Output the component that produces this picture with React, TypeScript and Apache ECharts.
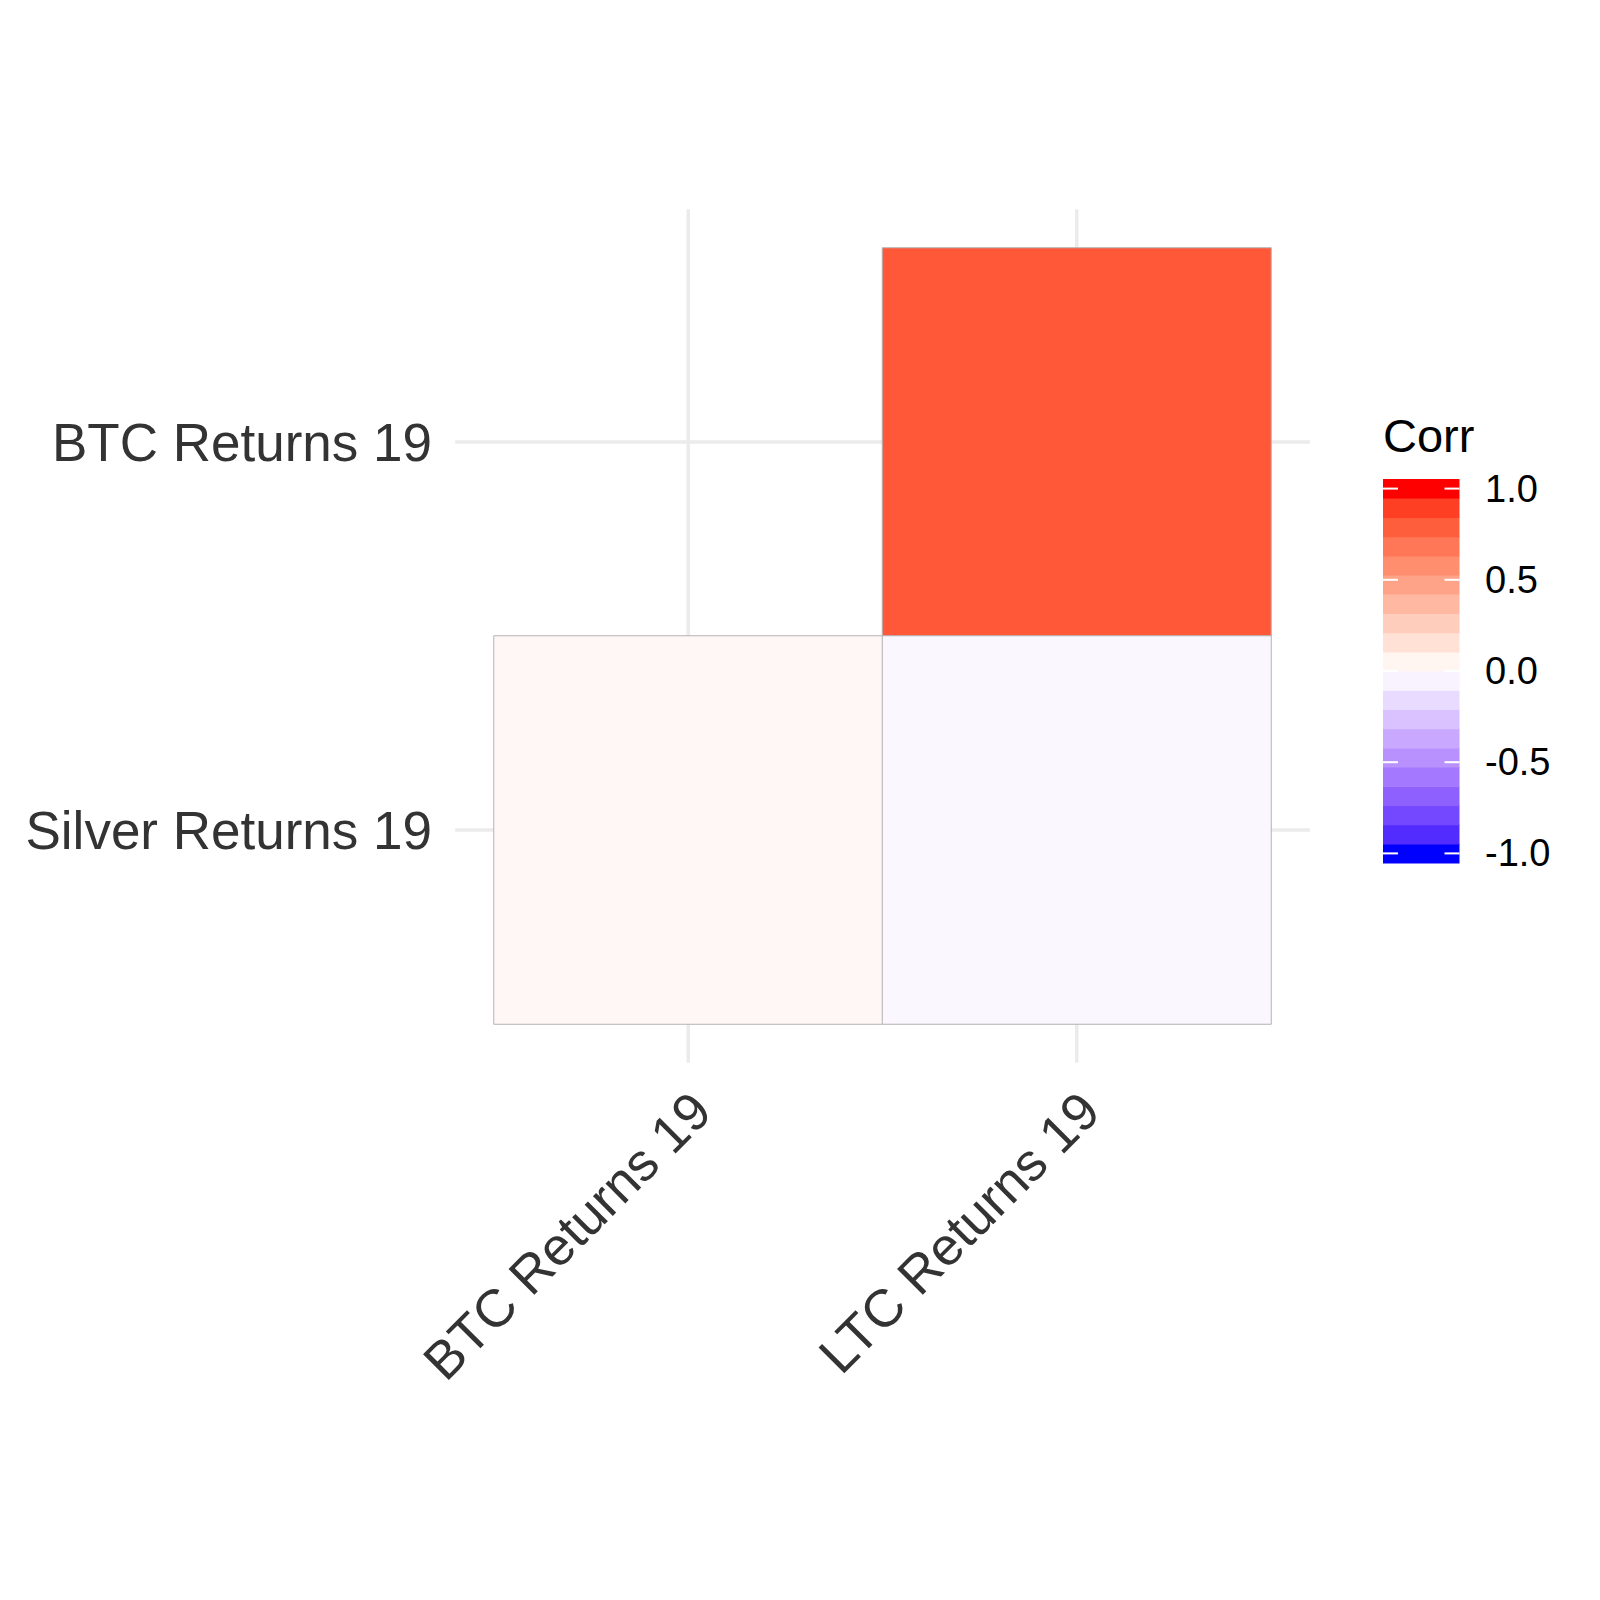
import React, { useEffect, useRef } from "react";
import * as echarts from "echarts";

const xCategories = ["BTC Returns 19", "LTC Returns 19"];
const yCategories = ["Silver Returns 19", "BTC Returns 19"];
const cellX = ["LTC Returns 19", "BTC Returns 19", "LTC Returns 19"];
const cellY = ["BTC Returns 19", "Silver Returns 19", "Silver Returns 19"];
const corrValues = [0.81, 0.04, -0.035];
const legendTicks = [1, 0.5, 0, -0.5, -1];
const legendTitle = "Corr";

const FONT = "'Liberation Sans', Arial, Helvetica, sans-serif";

// Lab interpolation like ggplot's scale_fill_gradient2 (blue - white - red)
function rgbToLab(r: number, g: number, b: number) {
  const lin = (c: number) => {
    c /= 255;
    return c <= 0.04045 ? c / 12.92 : Math.pow((c + 0.055) / 1.055, 2.4);
  };
  const R = lin(r), G = lin(g), B = lin(b);
  const X = (0.4124 * R + 0.3576 * G + 0.1805 * B) / 0.95047;
  const Y = 0.2126 * R + 0.7152 * G + 0.0722 * B;
  const Z = (0.0193 * R + 0.1192 * G + 0.9505 * B) / 1.08883;
  const f = (t: number) => (t > 0.008856 ? Math.cbrt(t) : 7.787 * t + 16 / 116);
  const fx = f(X), fy = f(Y), fz = f(Z);
  return [116 * fy - 16, 500 * (fx - fy), 200 * (fy - fz)];
}
function labToHex(L: number, a: number, b: number) {
  const fy = (L + 16) / 116;
  const fx = fy + a / 500;
  const fz = fy - b / 200;
  const inv = (t: number) => (t * t * t > 0.008856 ? t * t * t : (t - 16 / 116) / 7.787);
  const X = inv(fx) * 0.95047, Y = inv(fy), Z = inv(fz) * 1.08883;
  const r = 3.2406 * X - 1.5372 * Y - 0.4986 * Z;
  const g = -0.9689 * X + 1.8758 * Y + 0.0415 * Z;
  const bb = 0.0557 * X - 0.204 * Y + 1.057 * Z;
  const gam = (c: number) => {
    c = Math.max(0, Math.min(1, c));
    const v = c <= 0.0031308 ? 12.92 * c : 1.055 * Math.pow(c, 1 / 2.4) - 0.055;
    return Math.round(v * 255);
  };
  return "#" + [gam(r), gam(g), gam(bb)].map((v) => v.toString(16).padStart(2, "0")).join("");
}
const LAB_LOW = rgbToLab(0, 0, 255);
const LAB_MID = rgbToLab(255, 255, 255);
const LAB_HIGH = rgbToLab(255, 0, 0);
function corrColor(v: number) {
  const t = Math.min(1, Math.abs(v));
  const end = v >= 0 ? LAB_HIGH : LAB_LOW;
  return labToHex(
    LAB_MID[0] + (end[0] - LAB_MID[0]) * t,
    LAB_MID[1] + (end[1] - LAB_MID[1]) * t,
    LAB_MID[2] + (end[2] - LAB_MID[2]) * t
  );
}

export default function App() {
  const ref = useRef<HTMLDivElement>(null);
  useEffect(() => {
    document.body.style.margin = "0";
    if (!ref.current) return;
    const chart = echarts.init(ref.current, undefined, { renderer: "svg" });

    const stops: string[] = [];
    for (let i = 0; i <= 40; i++) stops.push(corrColor(-1 + i * 0.05));

    const gridLeft = 494, gridTop = 248, gridW = 777, gridH = 776;

    // legend geometry
    const barLeft = 1383, barTop = 479, barW = 76.5, barH = 384;
    const nbin = 20;
    const legendEls: any[] = [];
    for (let i = 0; i < nbin; i++) {
      const v = -1 + (i * 2) / (nbin - 1);
      legendEls.push({
        type: "rect",
        shape: { x: barLeft, y: barTop + barH - (i + 1) * (barH / nbin), width: barW, height: barH / nbin + 0.6 },
        style: { fill: corrColor(v) },
        silent: true,
      });
    }
    legendTicks.forEach((v) => {
      const y = barTop + barH - (((v + 1) / 2) * (nbin - 1) + 0.5) / nbin * barH;
      legendEls.push({
        type: "line",
        shape: { x1: barLeft, y1: y, x2: barLeft + 15, y2: y },
        style: { stroke: "#ffffff", lineWidth: 2 },
      });
      legendEls.push({
        type: "line",
        shape: { x1: barLeft + barW - 15, y1: y, x2: barLeft + barW, y2: y },
        style: { stroke: "#ffffff", lineWidth: 2 },
      });
      legendEls.push({
        type: "text",
        x: 1485,
        y: y,
        style: {
          text: v.toFixed(1),
          font: `38px ${FONT}`,
          fill: "#000000",
          align: "left",
          verticalAlign: "middle",
        },
      });
    });
    legendEls.push({
      type: "text",
      x: 1383,
      y: 435,
      style: {
        text: legendTitle,
        font: `47px ${FONT}`,
        fill: "#000000",
        align: "left",
        verticalAlign: "middle",
      },
    });

    const gridRender = (orient: "v" | "h") => (params: any, api: any) => {
      const cs = params.coordSys;
      const band = api.size([1, 1]);
      const c = api.coord([api.value(0), api.value(1)]);
      if (orient === "v") {
        const ext = band[1] * 0.1;
        return {
          type: "line",
          shape: { x1: c[0], y1: cs.y - ext, x2: c[0], y2: cs.y + cs.height + ext },
          style: { stroke: "#EBEBEB", lineWidth: 3.5 },
        };
      }
      const ext = band[0] * 0.1;
      return {
        type: "line",
        shape: { x1: cs.x - ext, y1: c[1], x2: cs.x + cs.width + ext, y2: c[1] },
        style: { stroke: "#EBEBEB", lineWidth: 3.5 },
      };
    };

    chart.setOption({
      animation: false,
      backgroundColor: "#ffffff",
      grid: { left: gridLeft, top: gridTop, width: gridW, height: gridH, containLabel: false },
      xAxis: {
        type: "category",
        data: xCategories,
        axisLine: { show: false },
        axisTick: { show: false },
        splitLine: { show: false },
        axisLabel: {
          rotate: 45,
          interval: 0,
          margin: 53,
          align: "right",
          verticalAlign: "top",
          padding: [0, 8, 0, 0],
          fontSize: 53,
          fontFamily: FONT,
          color: "#333333",
        },
      },
      yAxis: {
        type: "category",
        data: yCategories,
        axisLine: { show: false },
        axisTick: { show: false },
        splitLine: { show: false },
        axisLabel: {
          margin: 62,
          fontSize: 53,
          fontFamily: FONT,
          color: "#333333",
        },
      },
      visualMap: {
        show: false,
        min: -1,
        max: 1,
        dimension: 2,
        seriesIndex: 2,
        inRange: { color: stops },
      },
      series: [
        {
          type: "custom",
          z: 1,
          silent: true,
          renderItem: gridRender("v"),
          data: xCategories.map((c) => [c, yCategories[0]]),
        },
        {
          type: "custom",
          z: 1,
          silent: true,
          renderItem: gridRender("h"),
          data: yCategories.map((c) => [xCategories[0], c]),
        },
        {
          type: "heatmap",
          z: 2,
          data: corrValues.map((v, i) => [cellX[i], cellY[i], v]),
          itemStyle: { borderColor: "#B3B3B3", borderWidth: 1 },
          emphasis: { disabled: true },
        },
      ],
      graphic: legendEls,
    });
    return () => chart.dispose();
  }, []);
  return <div ref={ref} style={{ width: 1600, height: 1600 }} />;
}
